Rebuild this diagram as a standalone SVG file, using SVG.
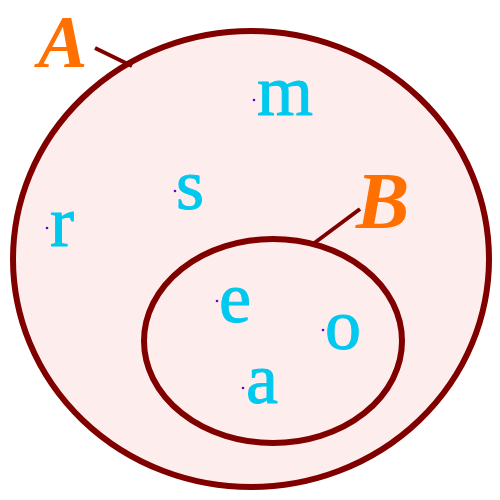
<svg xmlns="http://www.w3.org/2000/svg" width="500" height="500" viewBox="0 0 500 500">
<style>
.set{fill:#fdeded;stroke:#800000;stroke-width:6}
.ptr{stroke:#800000;stroke-width:4;fill:none}
.lbl{font-family:"Liberation Serif",serif;font-style:italic;font-weight:bold;font-size:74px;fill:#ff7000}
.el{font-family:"Liberation Serif",serif;font-size:72px;fill:#00c8ee;stroke:#00c8ee;stroke-width:1}
.dot{fill:#6a00d0}
</style>
<g id="setA"><ellipse class="set" cx="251" cy="259" rx="238" ry="228"/></g>
<g id="setB"><ellipse class="set" cx="273" cy="341" rx="129" ry="102"/></g>
<g id="connectors">
<line class="ptr" x1="95" y1="48" x2="132" y2="66"/>
<line class="ptr" x1="360" y1="209" x2="313" y2="244"/>
</g>
<g id="labelA"><text class="lbl" x="38" y="67">A</text></g>
<g id="labelB"><text class="lbl" x="356" y="228" style="font-size:80px">B</text></g>
<g id="m"><circle class="dot" cx="254" cy="100" r="1.3"/><text class="el" x="257" y="115">m</text></g>
<g id="s"><circle class="dot" cx="175" cy="191" r="1.3"/><text class="el" x="176" y="209">s</text></g>
<g id="r"><circle class="dot" cx="47" cy="228" r="1.3"/><text class="el" x="50" y="246">r</text></g>
<g id="e"><circle class="dot" cx="217" cy="301" r="1.3"/><text class="el" x="219" y="322">e</text></g>
<g id="o"><circle class="dot" cx="323" cy="330" r="1.3"/><text class="el" x="325" y="349">o</text></g>
<g id="a"><circle class="dot" cx="243" cy="388" r="1.3"/><text class="el" x="246" y="403">a</text></g>
</svg>
